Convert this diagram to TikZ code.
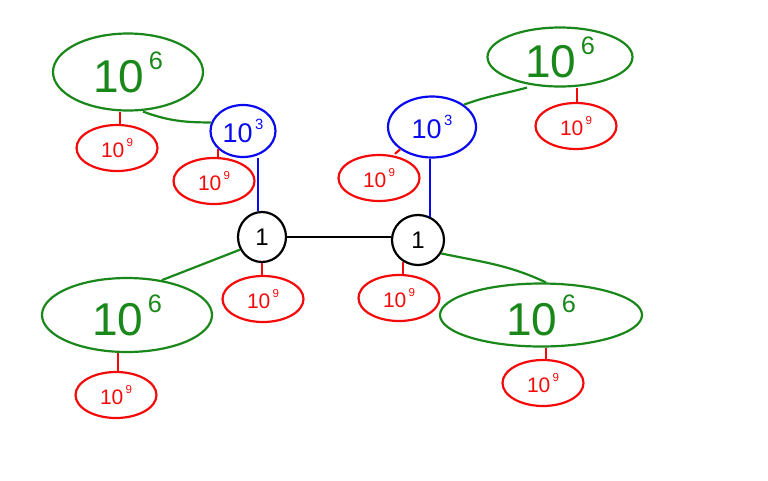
\documentclass[tikz,border=0pt]{standalone}
\usepackage{fontspec}
\setmainfont{Liberation Sans}
\usetikzlibrary{shapes.geometric}
\definecolor{hgreen}{RGB}{26,135,26}
\definecolor{hred}{RGB}{245,10,10}
\definecolor{hblue}{RGB}{10,10,240}
\newcommand{\mypow}[3]{\fontsize{#3}{#3}\selectfont #1\hspace{0.1em}\raisebox{0.5em}{\fontsize{0.55\dimexpr #3\relax}{1}\selectfont #2}}
\begin{document}
\begin{tikzpicture}[x=1pt,y=-1pt,line width=2.2pt,
  blob/.style={ellipse,draw,inner sep=0pt},
  gblob/.style={blob,draw=hgreen,text=hgreen},
  rblob/.style={blob,draw=hred,text=hred,minimum width=81pt,minimum height=46pt},
  ublob/.style={blob,draw=hblue,text=hblue},
  kblob/.style={blob,draw=black,text=black},
  gline/.style={draw=hgreen},
  rline/.style={draw=hred},
  uline/.style={draw=hblue},
  kline/.style={draw=black}]
\useasboundingbox (0,0) rectangle (768,480);
% black nodes
\node[kblob,minimum width=48pt,minimum height=50pt] (b1) at (262,237) {\fontsize{24}{24}\selectfont 1};
\node[kblob,minimum width=52pt,minimum height=50pt] (b2) at (418,240) {\fontsize{24}{24}\selectfont 1};
% blue nodes
\node[ublob,minimum width=65pt,minimum height=52pt] (u1) at (243,131) {\mypow{10}{3}{27pt}};
\node[ublob,minimum width=88pt,minimum height=61pt] (u2) at (432,127) {\mypow{10}{3}{27pt}};
% green nodes
\node[gblob,minimum width=150pt,minimum height=77pt] (g1) at (128,72) {\mypow{10}{6}{46pt}};
\node[gblob,minimum width=145pt,minimum height=59pt] (g2) at (560,57) {\mypow{10}{6}{46pt}};
\node[gblob,minimum width=170pt,minimum height=74pt] (g3) at (127,315) {\mypow{10}{6}{46pt}};
\node[gblob,minimum width=202pt,minimum height=63pt] (g4) at (541,315) {\mypow{10}{6}{46pt}};
% red nodes
\node[rblob] (r1) at (117,148) {\mypow{10}{9}{21pt}};
\node[rblob] (r2) at (214,181) {\mypow{10}{9}{21pt}};
\node[rblob] (r3) at (576,126) {\mypow{10}{9}{21pt}};
\node[rblob] (r4) at (379,178) {\mypow{10}{9}{21pt}};
\node[rblob] (r5) at (263,299) {\mypow{10}{9}{21pt}};
\node[rblob] (r6) at (116,395) {\mypow{10}{9}{21pt}};
\node[rblob] (r7) at (399,298) {\mypow{10}{9}{21pt}};
\node[rblob] (r8) at (543,383) {\mypow{10}{9}{21pt}};
% black connector
\draw[kline] (b1.east) -- (b2.west |- b1.east);
% blue connectors
\draw[uline] ([xshift=15pt]u1.south) -- ([xshift=-4pt]b1.north);
\draw[uline] ([xshift=-2pt]u2.south) -- ([xshift=-2pt,yshift=-3pt]u2.south |- b2.north);
% green connectors
\draw[gline] ([xshift=15pt]g1.south) to[out=-20,in=180] (u1.165);
\draw[gline] (u2.35) to[out=20,in=195] ([xshift=-33pt]g2.south);
\draw[gline] (b1.210) -- (g3.45);
\draw[gline] (b2.-30) to[out=-12,in=155] ([xshift=5pt]g4.north);
% red connectors
\draw[rline] ([xshift=-8pt]g1.south) -- ([xshift=-8pt]g1.south |- r1.north);
\draw[rline] (u1.215) -- (u1.215 |- r2.north);
\draw[rline] ([xshift=17pt]g2.south) -- ([xshift=17pt]g2.south |- r3.north);
\draw[rline] (u2.215) -- ([xshift=16pt]r4.north);
\draw[rline] (b1.south) -- (b1.south |- r5.north);
\draw[rline] ([xshift=-9pt]g3.south) -- ([xshift=-9pt]g3.south |- r6.north);
\draw[rline] (b2.235) -- (b2.235 |- r7.north);
\draw[rline] ([xshift=5pt]g4.south) -- ([xshift=5pt]g4.south |- r8.north);
\end{tikzpicture}
\end{document}
